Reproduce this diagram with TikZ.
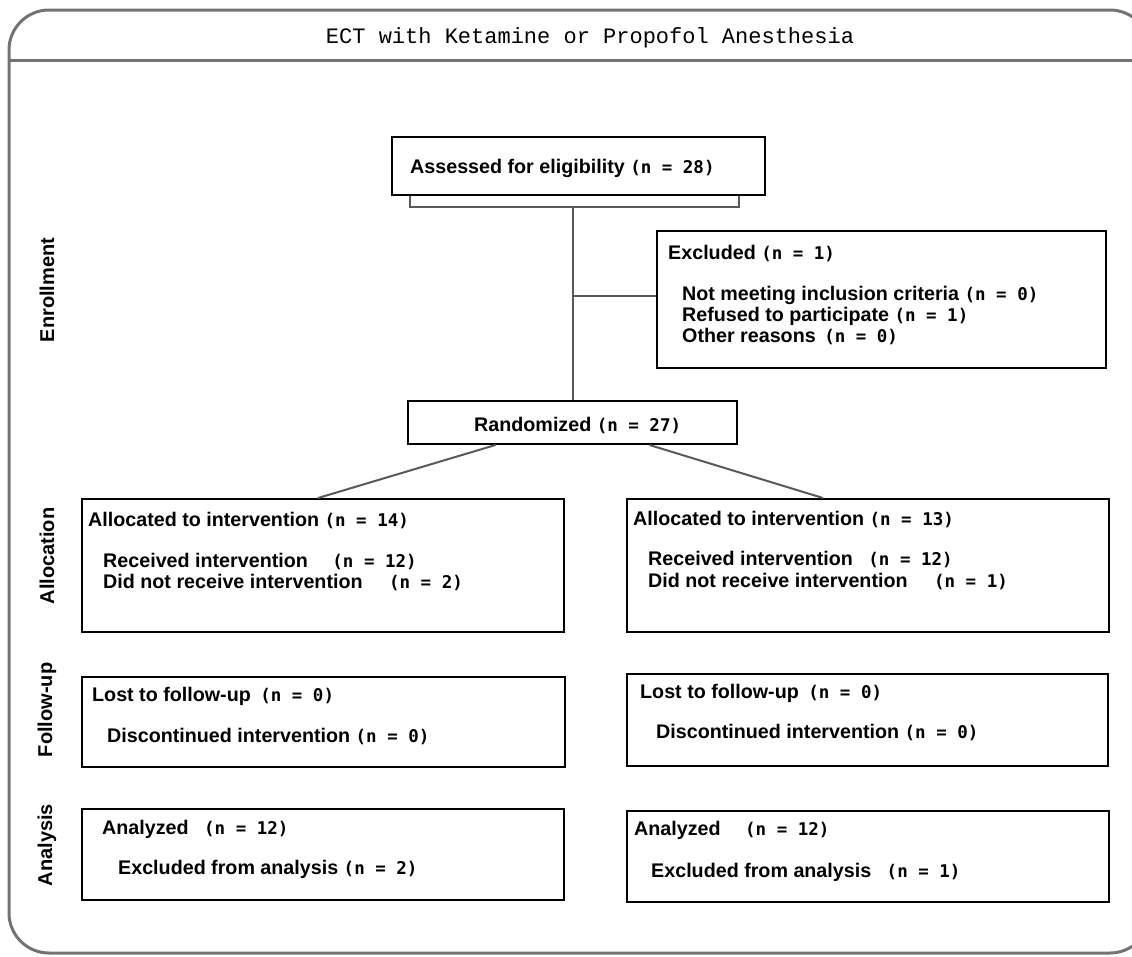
\documentclass[tikz,border=0pt]{standalone}
\usepackage{fontspec}
\setmainfont{Liberation Sans}
\newfontfamily\titlefont{Liberation Mono}
\newfontfamily\countfont{DejaVu Sans Mono}
\usetikzlibrary{positioning,calc}

\newcommand{\nn}[1]{{\countfont\bfseries\fontsize{17.5}{22}\selectfont(n = #1)}}

\tikzset{
    frame/.style={draw=black!55, line width=3pt},
    box/.style={draw=black, line width=2pt, fill=white, inner sep=0pt},
    conn/.style={draw=black!65, line width=2pt},
    lbl/.style={anchor=base west, inner sep=0pt, font=\bfseries\fontsize{19.7}{22}\selectfont},
    side/.style={rotate=90, inner sep=0pt, font=\bfseries\fontsize{20}{22}\selectfont},
}

\begin{document}
\begin{tikzpicture}[x=1pt,y=-1pt]
    \useasboundingbox (0,0) rectangle (1132,956);
    \clip (0,0) rectangle (1132,956);

    % window frame and title bar
    \draw[frame, rounded corners=40pt] (9,953) -- (9,10) -- (1150,10) -- (1150,953) -- cycle;
    \draw[frame] (9,60) -- (1132,60);
    \node[font=\titlefont\fontsize{22}{24}\selectfont] (title) at (590,38) {ECT with Ketamine or Propofol Anesthesia};

    % stage labels
    \node[side] (enrol) at (47,290) {Enrollment};
    \node[side] (alloc) at (47,556) {Allocation};
    \node[side] (follow) at (47,710) {Follow-up};
    \node[side] (analys) at (47,845) {Analysis};

    % boxes
    \node[box, minimum width=373pt, minimum height=58pt] (assess) at (578.5,166) {};
    \node[box, minimum width=449pt, minimum height=137pt] (excl) at (881.5,299.5) {};
    \node[box, minimum width=329pt, minimum height=43pt] (rand) at (572.5,422.5) {};
    \node[box, minimum width=482pt, minimum height=133pt] (allocL) at (323,565.5) {};
    \node[box, minimum width=482pt, minimum height=133pt] (allocR) at (868,565.5) {};
    \node[box, minimum width=483pt, minimum height=90pt] (follL) at (323.5,722) {};
    \node[box, minimum width=481pt, minimum height=92pt] (follR) at (867.5,720) {};
    \node[box, minimum width=482pt, minimum height=91pt] (anaL) at (323,854.5) {};
    \node[box, minimum width=482pt, minimum height=91pt] (anaR) at (868,856.5) {};

    % connectors
    \coordinate (brk) at ($(rand.north |- assess.south)+(0,11)$);
    \draw[conn] ($(assess.south west)+(19,0)$) -- ++(0,11) -| ($(assess.south east)+(-27,0)$);
    \draw[conn] (brk) -- (rand.north);
    \draw[conn] ([yshift=4pt]excl.west) -- ([yshift=4pt]excl.west -| brk);
    \draw[conn] ($(rand.south)+(-77,0)$) -- ($(allocL.north)+(-5,0)$);
    \draw[conn] ($(rand.south)+(77,0)$) -- ($(allocR.north)+(-45,0)$);

    % texts
    \node[lbl] (tAssess) at (410,173) {Assessed for eligibility \nn{28}};
    \node[lbl] (tExcl) at (668,259) {Excluded \nn{1}};
    \node[lbl] (tExclA) at (682,300) {Not meeting inclusion criteria \nn{0}};
    \node[lbl] (tExclB) at (682,321) {Refused to participate \nn{1}};
    \node[lbl] (tExclC) at (682,342) {Other reasons\hspace{3pt} \nn{0}};
    \node[lbl] (tRand) at (474,431) {Randomized \nn{27}};

    \node[lbl] (tAllocL) at (88,526) {Allocated to intervention \nn{14}};
    \node[lbl] (tRecL) at (103,567) {Received intervention\hspace{19pt} \nn{12}};
    \node[lbl] (tNotL) at (103,588) {Did not receive intervention\hspace{21pt} \nn{2}};
    \node[lbl] (tAllocR) at (633,525) {Allocated to intervention \nn{13}};
    \node[lbl] (tRecR) at (648,565) {Received intervention\hspace{10pt} \nn{12}};
    \node[lbl] (tNotR) at (648,587) {Did not receive intervention\hspace{21pt} \nn{1}};

    \node[lbl] (tLostL) at (92,701) {Lost to follow-up\hspace{4pt} \nn{0}};
    \node[lbl] (tDiscL) at (107,742) {Discontinued intervention \nn{0}};
    \node[lbl] (tLostR) at (640,698) {Lost to follow-up\hspace{4pt} \nn{0}};
    \node[lbl] (tDiscR) at (656,738) {Discontinued intervention \nn{0}};

    \node[lbl] (tAnaL) at (102,834) {Analyzed\hspace{10pt} \nn{12}};
    \node[lbl] (tExAnL) at (118,874) {Excluded from analysis \nn{2}};
    \node[lbl] (tAnaR) at (634,835) {Analyzed\hspace{19pt} \nn{12}};
    \node[lbl] (tExAnR) at (651,877) {Excluded from analysis\hspace{10pt} \nn{1}};
\end{tikzpicture}
\end{document}
